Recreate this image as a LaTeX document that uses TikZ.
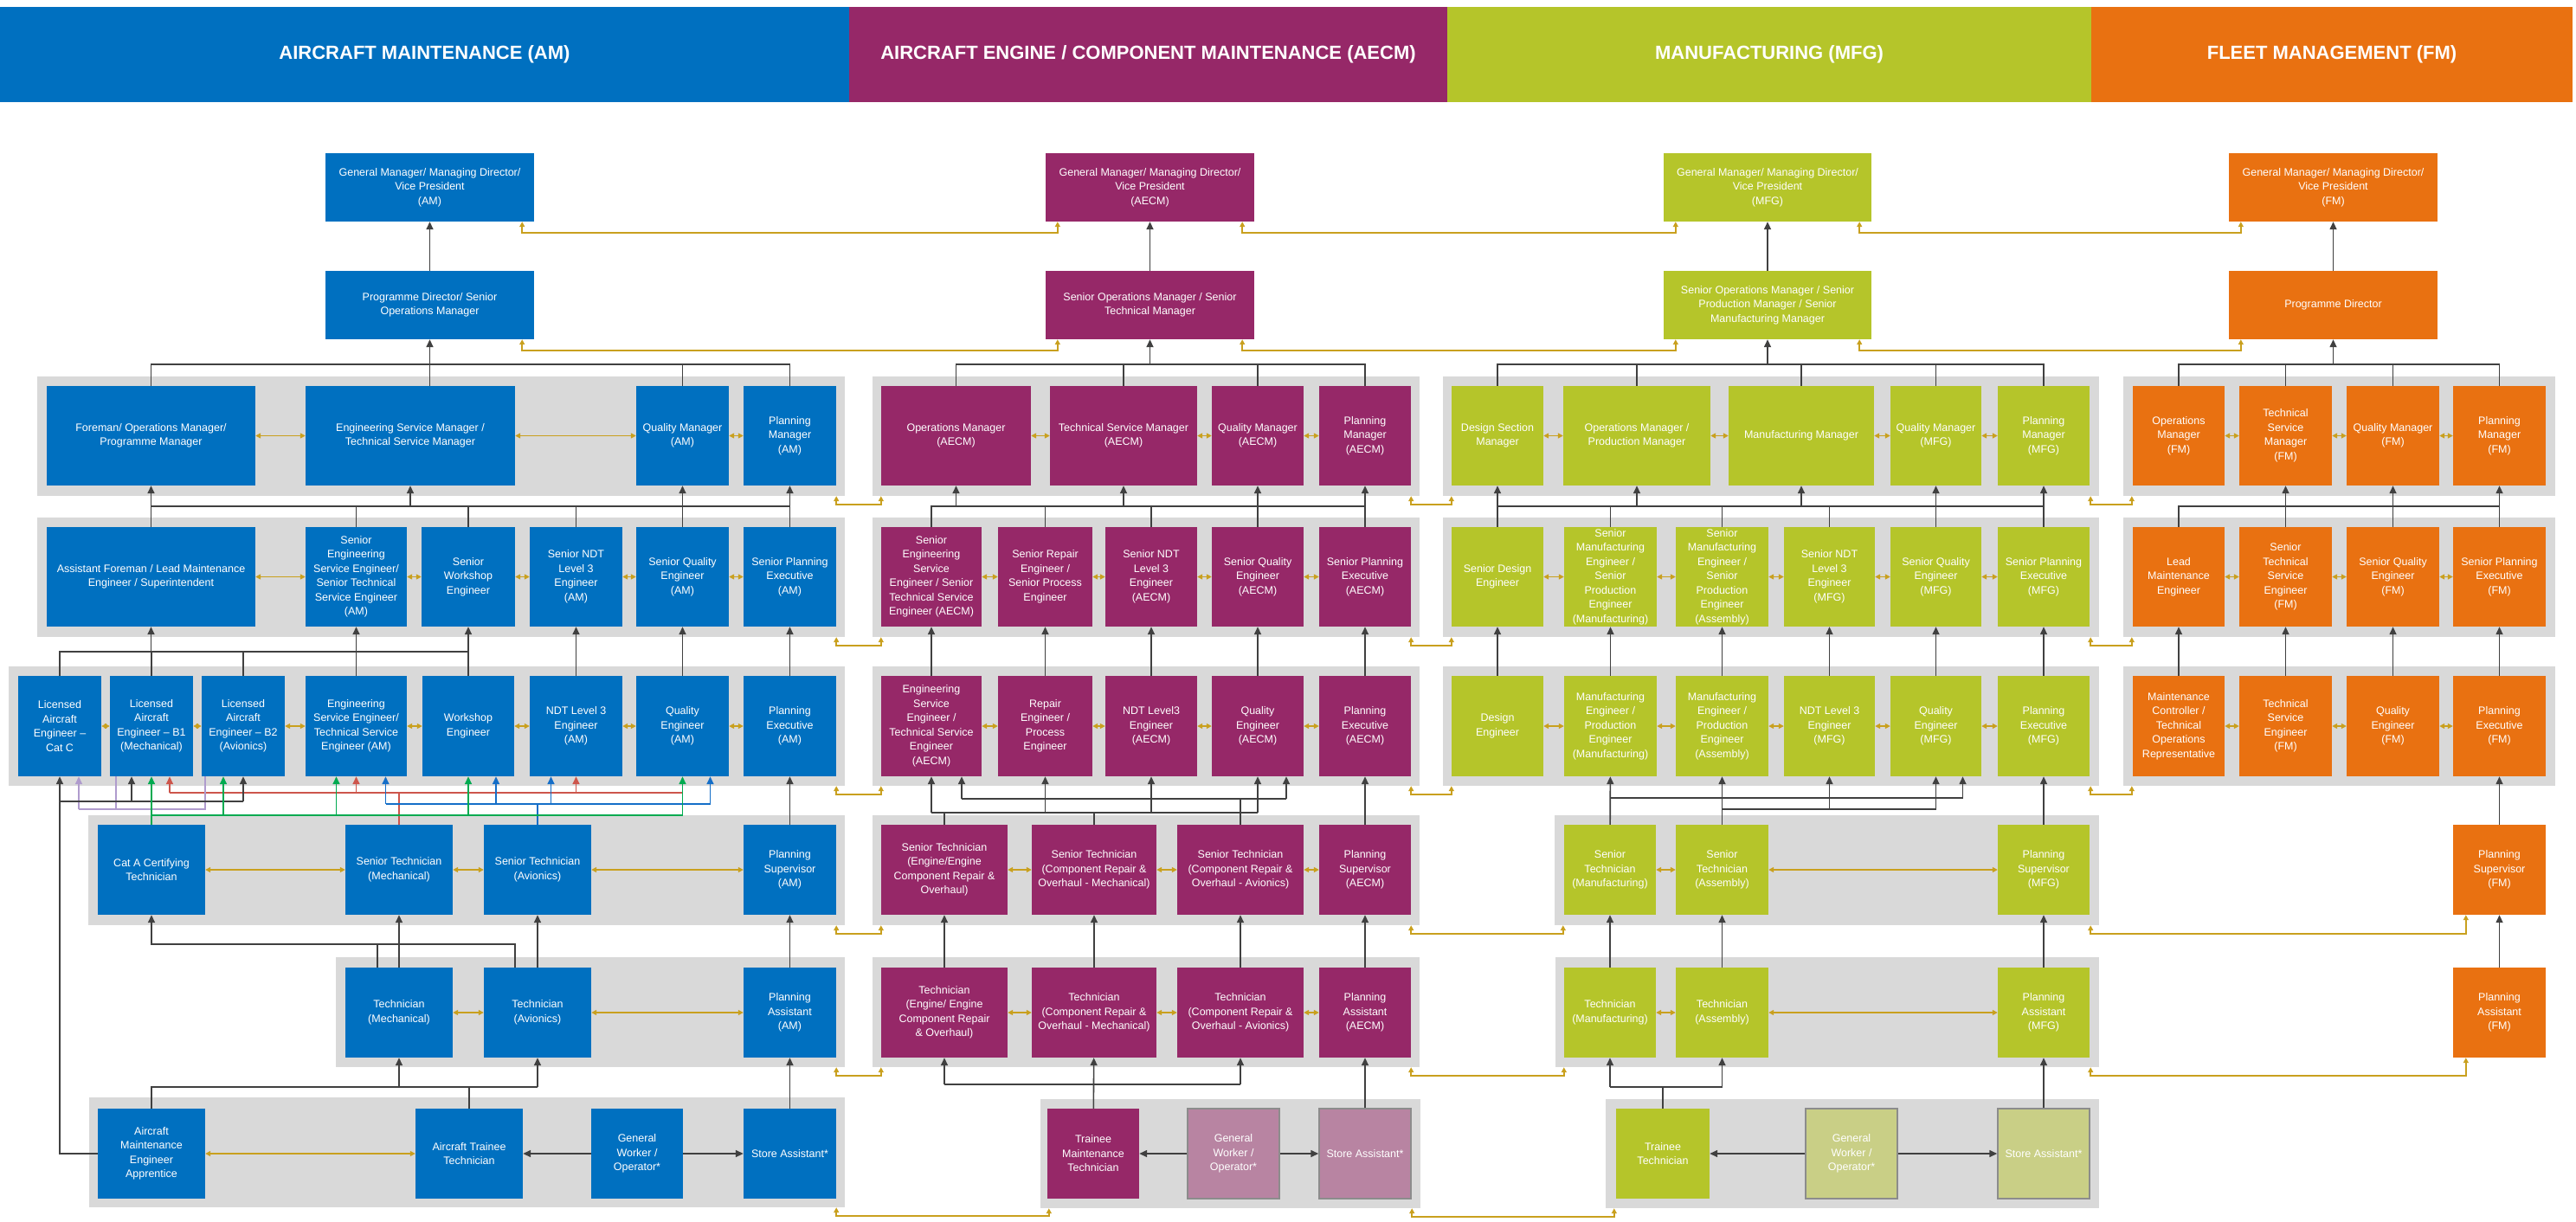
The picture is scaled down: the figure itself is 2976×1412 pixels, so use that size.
\documentclass[tikz,border=0pt]{standalone}
\usepackage{fontspec}
\setmainfont{Liberation Sans}
\usetikzlibrary{arrows.meta}

\definecolor{amblue}{RGB}{0,112,192}
\definecolor{aecmpurple}{RGB}{150,40,104}
\definecolor{mfggreen}{RGB}{181,197,42}
\definecolor{fmorange}{RGB}{233,113,17}
\definecolor{bandgray}{RGB}{217,217,217}
\definecolor{aecmlight}{RGB}{184,132,162}
\definecolor{mfglight}{RGB}{201,207,134}
\definecolor{linkgold}{RGB}{201,160,30}
\definecolor{darkline}{RGB}{64,64,64}
\definecolor{catred}{RGB}{205,85,75}
\definecolor{catgreen}{RGB}{0,170,80}
\definecolor{catblue}{RGB}{20,110,200}
\definecolor{catlilac}{RGB}{175,155,205}

\newcommand{\jobfont}{\fontsize{12.5}{16.5}\selectfont}
\newcommand{\role}[7]{\node[#1, minimum width={(#5-#3)*1pt}, minimum height={(#6-#4)*1pt}] (#2) at ({(#3+#5)/2},{(#4+#6)/2}) {#7};}

\begin{document}
\begin{tikzpicture}[x=1pt, y=-1pt,
	role/.style={rectangle, inner sep=0pt, text=white, align=center, font=\jobfont},
	am/.style={role, fill=amblue}, ae/.style={role, fill=aecmpurple},
	mf/.style={role, fill=mfggreen}, fm/.style={role, fill=fmorange},
	aelite/.style={role, fill=aecmlight, draw=gray!90, line width=1.5pt},
	mflite/.style={role, fill=mfglight, draw=gray!90, line width=1.5pt},
	band/.style={rectangle, inner sep=0pt, fill=bandgray},
	hdr/.style={rectangle, inner sep=0pt, text=white, font=\fontsize{22}{26}\selectfont\bfseries},
	bus/.style={draw=darkline, line width=1.6pt},
	hier/.style={bus, -{Triangle[length=9pt,width=8pt]}},
	tie/.style={line width=1.6pt, -{Triangle[length=9pt,width=8pt]}},
	peer/.style={draw=linkgold, line width=1.6pt, {Triangle[length=6pt,width=6pt]}-{Triangle[length=6pt,width=6pt]}}]
	\useasboundingbox (0,0) rectangle (2976,1412);
	% headers
	\role{hdr, fill=amblue}{hAM}{0}{8}{981}{118}{AIRCRAFT MAINTENANCE (AM)}
	\role{hdr, fill=aecmpurple}{hAE}{981}{8}{1672}{118}{AIRCRAFT ENGINE / COMPONENT MAINTENANCE (AECM)}
	\role{hdr, fill=mfggreen}{hMF}{1672}{8}{2416}{118}{MANUFACTURING (MFG)}
	\role{hdr, fill=fmorange}{hFM}{2416}{8}{2972}{118}{FLEET MANAGEMENT (FM)}
	% bands
	\role{band}{bAM1}{43}{435}{976}{573}{}
	\role{band}{bAM2}{43}{598}{976}{736}{}
	\role{band}{bAM3}{10}{770}{976}{908}{}
	\role{band}{bAM4}{102}{942}{976}{1069}{}
	\role{band}{bAM5}{388}{1106}{976}{1233}{}
	\role{band}{bAM6}{103}{1268}{976}{1395}{}
	\role{band}{bAE1}{1008}{435}{1640}{573}{}
	\role{band}{bAE2}{1008}{598}{1640}{736}{}
	\role{band}{bAE3}{1008}{770}{1640}{908}{}
	\role{band}{bAE4}{1008}{942}{1640}{1069}{}
	\role{band}{bAE5}{1008}{1106}{1640}{1233}{}
	\role{band}{bAE6}{1202}{1270}{1641}{1396}{}
	\role{band}{bMF1}{1667}{435}{2425}{573}{}
	\role{band}{bMF2}{1667}{598}{2425}{736}{}
	\role{band}{bMF3}{1667}{770}{2425}{908}{}
	\role{band}{bMF4}{1796}{942}{2425}{1069}{}
	\role{band}{bMF5}{1797}{1106}{2425}{1233}{}
	\role{band}{bMF6}{1855}{1270}{2425}{1396}{}
	\role{band}{bFM1}{2453}{435}{2952}{573}{}
	\role{band}{bFM2}{2453}{598}{2952}{736}{}
	\role{band}{bFM3}{2453}{770}{2952}{908}{}
	% aircraft maintenance
	\role{am}{gmAM}{376}{177}{617}{256}{General Manager/ Managing Director/\\Vice President\\(AM)}
	\role{am}{pdAM}{376}{313}{617}{392}{Programme Director/ Senior\\Operations Manager}
	\role{am}{foreAM}{54}{446}{295}{561}{Foreman/ Operations Manager/\\Programme Manager}
	\role{am}{esmAM}{353}{446}{595}{561}{Engineering Service Manager /\\Technical Service Manager}
	\role{am}{qmAM}{735}{446}{842}{561}{Quality Manager\\(AM)}
	\role{am}{pmAM}{859}{446}{966}{561}{Planning\\Manager\\(AM)}
	\role{am}{afmAM}{54}{609}{295}{724}{Assistant Foreman / Lead Maintenance\\Engineer / Superintendent}
	\role{am}{seseAM}{353}{609}{470}{724}{Senior\\Engineering\\Service Engineer/\\Senior Technical\\Service Engineer\\(AM)}
	\role{am}{sweAM}{487}{609}{595}{724}{Senior\\Workshop\\Engineer}
	\role{am}{sndtAM}{612}{609}{719}{724}{Senior NDT\\Level 3\\Engineer\\(AM)}
	\role{am}{sqeAM}{735}{609}{842}{724}{Senior Quality\\Engineer\\(AM)}
	\role{am}{speAM}{859}{609}{966}{724}{Senior Planning\\Executive\\(AM)}
	\role{am}{lcAM}{21}{781}{117}{897}{Licensed\\Aircraft\\Engineer –\\Cat C}
	\role{am}{b1AM}{127}{781}{223}{897}{Licensed\\Aircraft\\Engineer – B1\\(Mechanical)}
	\role{am}{b2AM}{233}{781}{329}{897}{Licensed\\Aircraft\\Engineer – B2\\(Avionics)}
	\role{am}{eseAM}{353}{781}{470}{897}{Engineering\\Service Engineer/\\Technical Service\\Engineer (AM)}
	\role{am}{weAM}{488}{781}{594}{897}{Workshop\\Engineer}
	\role{am}{ndtAM}{612}{781}{719}{897}{NDT Level 3\\Engineer\\(AM)}
	\role{am}{qeAM}{735}{781}{842}{897}{Quality\\Engineer\\(AM)}
	\role{am}{peAM}{859}{781}{966}{897}{Planning\\Executive\\(AM)}
	\role{am}{caAM}{113}{953}{237}{1057}{Cat A Certifying\\Technician}
	\role{am}{stmAM}{399}{953}{523}{1057}{Senior Technician\\(Mechanical)}
	\role{am}{staAM}{559}{953}{683}{1057}{Senior Technician\\(Avionics)}
	\role{am}{psAM}{859}{953}{966}{1057}{Planning\\Supervisor\\(AM)}
	\role{am}{tmAM}{399}{1118}{523}{1222}{Technician\\(Mechanical)}
	\role{am}{taAM}{559}{1118}{683}{1222}{Technician\\(Avionics)}
	\role{am}{paAM}{859}{1118}{966}{1222}{Planning\\Assistant\\(AM)}
	\role{am}{appAM}{113}{1281}{237}{1385}{Aircraft\\Maintenance\\Engineer\\Apprentice}
	\role{am}{ttAM}{480}{1281}{604}{1385}{Aircraft Trainee\\Technician}
	\role{am}{gwAM}{683}{1281}{789}{1385}{General\\Worker /\\Operator*}
	\role{am}{saAM}{859}{1281}{966}{1385}{Store Assistant*}
	% aircraft engine / component maintenance
	\role{ae}{gmAE}{1208}{177}{1449}{256}{General Manager/ Managing Director/\\Vice President\\(AECM)}
	\role{ae}{pdAE}{1208}{313}{1449}{392}{Senior Operations Manager / Senior\\Technical Manager}
	\role{ae}{omAE}{1018}{446}{1191}{561}{Operations Manager\\(AECM)}
	\role{ae}{tsmAE}{1213}{446}{1383}{561}{Technical Service Manager\\(AECM)}
	\role{ae}{qmAE}{1400}{446}{1506}{561}{Quality Manager\\(AECM)}
	\role{ae}{pmAE}{1524}{446}{1630}{561}{Planning\\Manager\\(AECM)}
	\role{ae}{seseAE}{1018}{609}{1134}{724}{Senior\\Engineering\\Service\\Engineer / Senior\\Technical Service\\Engineer (AECM)}
	\role{ae}{sreAE}{1153}{609}{1262}{724}{Senior Repair\\Engineer /\\Senior Process\\Engineer}
	\role{ae}{sndtAE}{1277}{609}{1383}{724}{Senior NDT\\Level 3\\Engineer\\(AECM)}
	\role{ae}{sqeAE}{1400}{609}{1506}{724}{Senior Quality\\Engineer\\(AECM)}
	\role{ae}{speAE}{1524}{609}{1630}{724}{Senior Planning\\Executive\\(AECM)}
	\role{ae}{eseAE}{1018}{781}{1134}{897}{Engineering\\Service\\Engineer /\\Technical Service\\Engineer\\(AECM)}
	\role{ae}{reAE}{1153}{781}{1262}{897}{Repair\\Engineer /\\Process\\Engineer}
	\role{ae}{ndtAE}{1277}{781}{1383}{897}{NDT Level3\\Engineer\\(AECM)}
	\role{ae}{qeAE}{1400}{781}{1506}{897}{Quality\\Engineer\\(AECM)}
	\role{ae}{peAE}{1524}{781}{1630}{897}{Planning\\Executive\\(AECM)}
	\role{ae}{steAE}{1018}{953}{1164}{1057}{Senior Technician\\(Engine/Engine\\Component Repair \&\\Overhaul)}
	\role{ae}{stcmAE}{1192}{953}{1336}{1057}{Senior Technician\\(Component Repair \&\\Overhaul - Mechanical)}
	\role{ae}{stcaAE}{1360}{953}{1506}{1057}{Senior Technician\\(Component Repair \&\\Overhaul - Avionics)}
	\role{ae}{psAE}{1524}{953}{1630}{1057}{Planning\\Supervisor\\(AECM)}
	\role{ae}{teAE}{1018}{1118}{1164}{1222}{Technician\\(Engine/ Engine\\Component Repair\\\& Overhaul)}
	\role{ae}{tcmAE}{1192}{1118}{1336}{1222}{Technician\\(Component Repair \&\\Overhaul - Mechanical)}
	\role{ae}{tcaAE}{1360}{1118}{1506}{1222}{Technician\\(Component Repair \&\\Overhaul - Avionics)}
	\role{ae}{paAE}{1524}{1118}{1630}{1222}{Planning\\Assistant\\(AECM)}
	\role{ae}{tmtAE}{1210}{1281}{1316}{1385}{Trainee\\Maintenance\\Technician}
	\role{aelite}{gwAE}{1372}{1281}{1478}{1385}{General\\Worker /\\Operator*}
	\role{aelite}{saAE}{1524}{1281}{1630}{1385}{Store Assistant*}
	% manufacturing
	\role{mf}{gmMF}{1922}{177}{2162}{256}{General Manager/ Managing Director/\\Vice President\\(MFG)}
	\role{mf}{pdMF}{1922}{313}{2162}{392}{Senior Operations Manager / Senior\\Production Manager / Senior\\Manufacturing Manager}
	\role{mf}{dsmMF}{1677}{446}{1783}{561}{Design Section\\Manager}
	\role{mf}{opmMF}{1806}{446}{1976}{561}{Operations Manager /\\Production Manager}
	\role{mf}{mmMF}{1997}{446}{2165}{561}{Manufacturing Manager}
	\role{mf}{qmMF}{2184}{446}{2289}{561}{Quality Manager\\(MFG)}
	\role{mf}{pmMF}{2308}{446}{2414}{561}{Planning\\Manager\\(MFG)}
	\role{mf}{sdeMF}{1677}{609}{1783}{724}{Senior Design\\Engineer}
	\role{mf}{smmMF}{1807}{609}{1914}{724}{Senior\\Manufacturing\\Engineer /\\Senior\\Production\\Engineer\\(Manufacturing)}
	\role{mf}{smaMF}{1936}{609}{2043}{724}{Senior\\Manufacturing\\Engineer /\\Senior\\Production\\Engineer\\(Assembly)}
	\role{mf}{sndtMF}{2061}{609}{2166}{724}{Senior NDT\\Level 3\\Engineer\\(MFG)}
	\role{mf}{sqeMF}{2184}{609}{2289}{724}{Senior Quality\\Engineer\\(MFG)}
	\role{mf}{speMF}{2308}{609}{2414}{724}{Senior Planning\\Executive\\(MFG)}
	\role{mf}{deMF}{1677}{781}{1783}{897}{Design\\Engineer}
	\role{mf}{memMF}{1807}{781}{1914}{897}{Manufacturing\\Engineer /\\Production\\Engineer\\(Manufacturing)}
	\role{mf}{meaMF}{1936}{781}{2043}{897}{Manufacturing\\Engineer /\\Production\\Engineer\\(Assembly)}
	\role{mf}{ndtMF}{2061}{781}{2166}{897}{NDT Level 3\\Engineer\\(MFG)}
	\role{mf}{qeMF}{2184}{781}{2289}{897}{Quality\\Engineer\\(MFG)}
	\role{mf}{peMF}{2308}{781}{2414}{897}{Planning\\Executive\\(MFG)}
	\role{mf}{stmMF}{1807}{953}{1913}{1057}{Senior\\Technician\\(Manufacturing)}
	\role{mf}{staMF}{1936}{953}{2043}{1057}{Senior\\Technician\\(Assembly)}
	\role{mf}{psMF}{2308}{953}{2414}{1057}{Planning\\Supervisor\\(MFG)}
	\role{mf}{tmMF}{1807}{1118}{1913}{1222}{Technician\\(Manufacturing)}
	\role{mf}{taMF}{1936}{1118}{2043}{1222}{Technician\\(Assembly)}
	\role{mf}{paMF}{2308}{1118}{2414}{1222}{Planning\\Assistant\\(MFG)}
	\role{mf}{ttMF}{1867}{1281}{1975}{1385}{Trainee\\Technician}
	\role{mflite}{gwMF}{2086}{1281}{2192}{1385}{General\\Worker /\\Operator*}
	\role{mflite}{saMF}{2308}{1281}{2414}{1385}{Store Assistant*}
	% fleet management
	\role{fm}{gmFM}{2575}{177}{2816}{256}{General Manager/ Managing Director/\\Vice President\\(FM)}
	\role{fm}{pdFM}{2575}{313}{2816}{392}{Programme Director}
	\role{fm}{omFM}{2464}{446}{2570}{561}{Operations\\Manager\\(FM)}
	\role{fm}{tsmFM}{2587}{446}{2694}{561}{Technical\\Service\\Manager\\(FM)}
	\role{fm}{qmFM}{2711}{446}{2818}{561}{Quality Manager\\(FM)}
	\role{fm}{pmFM}{2834}{446}{2941}{561}{Planning\\Manager\\(FM)}
	\role{fm}{lmeFM}{2464}{609}{2570}{724}{Lead\\Maintenance\\Engineer}
	\role{fm}{stseFM}{2587}{609}{2694}{724}{Senior\\Technical\\Service\\Engineer\\(FM)}
	\role{fm}{sqeFM}{2711}{609}{2818}{724}{Senior Quality\\Engineer\\(FM)}
	\role{fm}{speFM}{2834}{609}{2941}{724}{Senior Planning\\Executive\\(FM)}
	\role{fm}{mcFM}{2464}{781}{2570}{897}{Maintenance\\Controller /\\Technical\\Operations\\Representative}
	\role{fm}{tseFM}{2587}{781}{2694}{897}{Technical\\Service\\Engineer\\(FM)}
	\role{fm}{qeFM}{2711}{781}{2818}{897}{Quality\\Engineer\\(FM)}
	\role{fm}{peFM}{2834}{781}{2941}{897}{Planning\\Executive\\(FM)}
	\role{fm}{psFM}{2834}{953}{2941}{1057}{Planning\\Supervisor\\(FM)}
	\role{fm}{paFM}{2834}{1118}{2941}{1222}{Planning\\Assistant\\(FM)}
	% bus levels
	\coordinate (yL1) at (0,421);
	\coordinate (yL2) at (0,585);
	\coordinate (yA3) at (0,753);
	\coordinate (yRd) at (0,916);
	\coordinate (yDk) at (0,926);
	\coordinate (yBl) at (0,929);
	\coordinate (yLv) at (0,935);
	\coordinate (yGr) at (0,942);
	\coordinate (yA5) at (0,1091);
	\coordinate (yA6) at (0,1256);
	\coordinate (yE4a) at (0,939);
	\coordinate (yE4b) at (0,923);
	\coordinate (yE6) at (0,1253);
	\coordinate (yM4a) at (0,922);
	\coordinate (yM4b) at (0,935);
	\coordinate (yM6) at (0,1256);
	% reporting lines, AM
	\draw[hier] (pdAM) -- (gmAM);
	\draw[bus] (foreAM.north) |- (yL1 -| pmAM.north) -- (pmAM.north);
	\draw[bus] (qmAM.north) -- (qmAM.north |- yL1);
	\draw[bus] (esmAM.north -| pdAM) -- (yL1 -| pdAM);
	\draw[hier] (yL1 -| pdAM) -- (pdAM.south);
	\draw[bus] (afmAM.north) |- (yL2 -| speAM.north) -- (speAM.north);
	\foreach \n in {seseAM,sweAM,sndtAM,sqeAM}
		\draw[bus] (\n.north) -- (\n.north |- yL2);
	\foreach \n in {foreAM,esmAM,qmAM,pmAM}
		\draw[hier] (\n.south |- yL2) -- (\n.south);
	\draw[bus] (lcAM.north) |- (yA3 -| weAM.north) -- (weAM.north);
	\foreach \n in {b1AM,b2AM,eseAM}
		\draw[bus] (\n.north) -- (\n.north |- yA3);
	\foreach \n in {afmAM,seseAM,sweAM}
		\draw[hier] (\n.south |- yA3) -- (\n.south);
	\foreach \a/\b in {ndtAM/sndtAM, qeAM/sqeAM, peAM/speAM, psAM/peAM, paAM/psAM, saAM/paAM, tmAM/stmAM, taAM/staAM, gwAM/ttAM, gwAM/saAM}
		\draw[hier] (\a) -- (\b);
	% licence routes
	\draw[catred, line width=1.6pt] (stmAM.north) |- ([xshift=21pt]b1AM.south |- yRd);
	\draw[catred, line width=1.6pt] (yRd -| stmAM) -- (yRd -| qeAM);
	\foreach \n/\d in {b1AM/21, eseAM/0, ndtAM/0}
		\draw[tie, catred] ([xshift=\d pt]\n.south |- yRd) -- ([xshift=\d pt]\n.south);
	\draw[catblue, line width=1.6pt] (staAM.north) |- ([xshift=34pt]eseAM.south |- yBl);
	\draw[catblue, line width=1.6pt] (yBl -| staAM) -- ([xshift=32pt]qeAM.south |- yBl);
	\foreach \n/\d in {eseAM/34, weAM/32, ndtAM/-29, qeAM/32}
		\draw[tie, catblue] ([xshift=\d pt]\n.south |- yBl) -- ([xshift=\d pt]\n.south);
	\draw[catlilac, line width=1.6pt] ([xshift=-44pt]b2AM.south) |- ([xshift=22pt]lcAM.south |- yLv);
	\draw[catlilac, line width=1.6pt] ([xshift=-41pt]b1AM.south) -- ([xshift=-41pt]b1AM.south |- yLv);
	\draw[tie, catlilac] ([xshift=22pt]lcAM.south |- yLv) -- ([xshift=22pt]lcAM.south);
	\draw[hier] (appAM.west) -| (lcAM.south);
	\draw[bus] (yDk -| lcAM) -- (yDk -| b2AM);
	\draw[hier] ([xshift=-23pt]b1AM.south |- yDk) -- ([xshift=-23pt]b1AM.south);
	\draw[hier] (yDk -| b2AM) -- (b2AM.south);
	\draw[tie, catgreen] (caAM.north) -- (b1AM.south);
	\draw[catgreen, line width=1.6pt] (yGr -| caAM) -- (yGr -| qeAM);
	\foreach \n/\d in {b2AM/-23, eseAM/-23, weAM/0, qeAM/0}
		\draw[tie, catgreen] ([xshift=\d pt]\n.south |- yGr) -- ([xshift=\d pt]\n.south);
	\draw[hier] ([xshift=-25pt]tmAM.north) |- (yA5 -| caAM) -- (caAM.south);
	\draw[bus] ([xshift=-26pt]taAM.north) |- ([xshift=-25pt]tmAM.north |- yA5);
	\draw[bus] (appAM.north) |- (yA6 -| taAM);
	\draw[bus] (ttAM.north) -- (ttAM.north |- yA6);
	\draw[hier] (yA6 -| tmAM) -- (tmAM.south);
	\draw[hier] (yA6 -| taAM) -- (taAM.south);
	% reporting lines, AECM
	\draw[hier] (pdAE) -- (gmAE);
	\draw[bus] (omAE.north) |- (yL1 -| pmAE.north) -- (pmAE.north);
	\foreach \n in {tsmAE,qmAE}
		\draw[bus] (\n.north) -- (\n.north |- yL1);
	\draw[hier] (yL1 -| pdAE) -- (pdAE.south);
	\draw[bus] (seseAE.north) |- (yL2 -| speAE.north) -- (speAE.north);
	\foreach \n in {sreAE,sndtAE,sqeAE}
		\draw[bus] (\n.north) -- (\n.north |- yL2);
	\foreach \n in {omAE,tsmAE,qmAE,pmAE}
		\draw[hier] (\n.south |- yL2) -- (\n.south);
	\foreach \a/\b in {eseAE/seseAE, reAE/sreAE, ndtAE/sndtAE, qeAE/sqeAE, peAE/speAE, psAE/peAE, teAE/steAE, tcmAE/stcmAE, tcaAE/stcaAE, paAE/psAE, tmtAE/tcmAE, saAE/paAE, gwAE/tmtAE, gwAE/saAE}
		\draw[hier] (\a) -- (\b);
	\draw[bus] (steAE.north) -- (steAE.north |- yE4a);
	\draw[bus] (stcmAE.north) -- (stcmAE.north |- yE4a);
	\draw[bus] (yE4a -| eseAE) -- (yE4a -| qeAE);
	\foreach \n in {eseAE,reAE,ndtAE,qeAE}
		\draw[hier] (\n.south |- yE4a) -- (\n.south);
	\draw[bus] (stcaAE.north) -- (stcaAE.north |- yE4b);
	\draw[bus] ([xshift=35pt]eseAE.south |- yE4b) -- ([xshift=33pt]qeAE.south |- yE4b);
	\foreach \n/\d in {eseAE/35, qeAE/33}
		\draw[hier] ([xshift=\d pt]\n.south |- yE4b) -- ([xshift=\d pt]\n.south);
	\draw[bus] (yE6 -| teAE) -- (yE6 -| tcaAE);
	\draw[hier] (yE6 -| teAE) -- (teAE.south);
	\draw[hier] (yE6 -| tcaAE) -- (tcaAE.south);
	% reporting lines, MFG
	\draw[hier] (pdMF) -- (gmMF);
	\draw[bus] (dsmMF.north) |- (yL1 -| pmMF.north) -- (pmMF.north);
	\foreach \n in {opmMF,mmMF,qmMF}
		\draw[bus] (\n.north) -- (\n.north |- yL1);
	\draw[hier] (yL1 -| pdMF) -- (pdMF.south);
	\draw[bus] (sdeMF.north) |- (yL2 -| speMF.north) -- (speMF.north);
	\foreach \n in {smmMF,smaMF,sndtMF,sqeMF}
		\draw[bus] (\n.north) -- (\n.north |- yL2);
	\foreach \n in {dsmMF,opmMF,mmMF,qmMF,pmMF}
		\draw[hier] (\n.south |- yL2) -- (\n.south);
	\foreach \a/\b in {deMF/sdeMF, memMF/smmMF, meaMF/smaMF, ndtMF/sndtMF, qeMF/sqeMF, peMF/speMF, stmMF/memMF, staMF/meaMF, psMF/peMF, tmMF/stmMF, taMF/staMF, paMF/psMF, saMF/paMF, gwMF/ttMF, gwMF/saMF}
		\draw[hier] (\a) -- (\b);
	\draw[bus] (yM4a -| stmMF) -- ([xshift=31pt]qeMF.south |- yM4a);
	\draw[hier] ([xshift=31pt]qeMF.south |- yM4a) -- ([xshift=31pt]qeMF.south);
	\draw[bus] (yM4b -| staMF) -- (yM4b -| qeMF);
	\foreach \n in {ndtMF,qeMF}
		\draw[hier] (\n.south |- yM4b) -- (\n.south);
	\draw[bus] (ttMF.north) -- (ttMF.north |- yM6);
	\draw[bus] (yM6 -| tmMF) -- (yM6 -| taMF);
	\draw[hier] (yM6 -| tmMF) -- (tmMF.south);
	\draw[hier] (yM6 -| taMF) -- (taMF.south);
	% reporting lines, FM
	\draw[hier] (pdFM) -- (gmFM);
	\draw[bus] (omFM.north) |- (yL1 -| pmFM.north) -- (pmFM.north);
	\foreach \n in {tsmFM,qmFM}
		\draw[bus] (\n.north) -- (\n.north |- yL1);
	\draw[hier] (yL1 -| pdFM) -- (pdFM.south);
	\draw[bus] (lmeFM.north) |- (yL2 -| speFM.north) -- (speFM.north);
	\foreach \n in {stseFM,sqeFM}
		\draw[bus] (\n.north) -- (\n.north |- yL2);
	\foreach \n in {tsmFM,qmFM,pmFM}
		\draw[hier] (\n.south |- yL2) -- (\n.south);
	\foreach \a/\b in {mcFM/lmeFM, tseFM/stseFM, qeFM/sqeFM, peFM/speFM, psFM/peFM, paFM/psFM}
		\draw[hier] (\a) -- (\b);
	% peer links
	\foreach \a/\b in {foreAM/esmAM, esmAM/qmAM, qmAM/pmAM, afmAM/seseAM, seseAM/sweAM, sweAM/sndtAM, sndtAM/sqeAM, sqeAM/speAM, lcAM/b1AM, b1AM/b2AM, b2AM/eseAM, eseAM/weAM, weAM/ndtAM, ndtAM/qeAM, qeAM/peAM, caAM/stmAM, stmAM/staAM, staAM/psAM, tmAM/taAM, taAM/paAM, appAM/ttAM,
		omAE/tsmAE, tsmAE/qmAE, qmAE/pmAE, seseAE/sreAE, sreAE/sndtAE, sndtAE/sqeAE, sqeAE/speAE, eseAE/reAE, reAE/ndtAE, ndtAE/qeAE, qeAE/peAE, steAE/stcmAE, stcmAE/stcaAE, stcaAE/psAE, teAE/tcmAE, tcmAE/tcaAE, tcaAE/paAE,
		dsmMF/opmMF, opmMF/mmMF, mmMF/qmMF, qmMF/pmMF, sdeMF/smmMF, smmMF/smaMF, smaMF/sndtMF, sndtMF/sqeMF, sqeMF/speMF, deMF/memMF, memMF/meaMF, meaMF/ndtMF, ndtMF/qeMF, qeMF/peMF, stmMF/staMF, staMF/psMF, tmMF/taMF, taMF/paMF,
		omFM/tsmFM, tsmFM/qmFM, qmFM/pmFM, lmeFM/stseFM, stseFM/sqeFM, sqeFM/speFM, mcFM/tseFM, tseFM/qeFM, qeFM/peFM}
		\draw[peer] (\a) -- (\b);
	% links across the divisions
	\foreach \a/\b in {gmAM/gmAE, gmAE/gmMF, gmMF/gmFM, pdAM/pdAE, pdAE/pdMF, pdMF/pdFM}
		\draw[peer] ([xshift=-14pt]\a.south east) -- ++(0,13) -| ([xshift=14pt]\b.south west);
	\foreach \a/\b in {bAM1/bAE1, bAE1/bMF1, bMF1/bFM1, bAM2/bAE2, bAE2/bMF2, bMF2/bFM2, bAM3/bAE3, bAE3/bMF3, bMF3/bFM3, bAM4/bAE4, bAE4/bMF4, bAM5/bAE5, bAE5/bMF5, bAM6/bAE6, bAE6/bMF6}
		\draw[peer] ([xshift=-10pt]\a.south east) -- ++(0,10) -| ([xshift=10pt]\b.south west);
	\draw[peer] ([xshift=-10pt]bMF4.south east) -- ++(0,10) -| ([xshift=15pt]psFM.south west);
	\draw[peer] ([xshift=-10pt]bMF5.south east) -- ++(0,10) -| ([xshift=15pt]paFM.south west);
\end{tikzpicture}
\end{document}
